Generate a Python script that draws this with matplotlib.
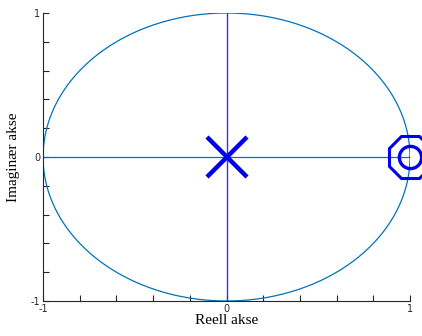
import matplotlib.pyplot as plt
import numpy as np

# poler og nullpunkt
pol_re = [0.0]
pol_im = [0.0]
null_re = [1.0]
null_im = [0.0]

ticks = [-1, -0.8, -0.6, -0.4, -0.2, 0, 0.2, 0.4, 0.6, 0.8, 1]
ticklabels = ['-1', '', '', '', '', '0', '', '', '', '', '1']

fig = plt.figure(figsize=(4.22, 3.36), dpi=100)
ax = fig.add_axes([0.102, 0.1042, 0.8696, 0.8571])

# enhetssirkel
t = np.linspace(0, 2 * np.pi, 400)
ax.plot(np.cos(t), np.sin(t), color='#0072BD', lw=0.9)

# akser
ax.plot([-1, 1], [0, 0], color='#0072BD', lw=0.9)
ax.plot([0, 0], [-1, 1], color='#2f2fff', lw=1.0)

ax.plot(pol_re, pol_im, 'x', color='#0000ee', ms=29, mew=3.2)
ax.plot(null_re, null_im, '8', mfc='none', mec='#0000ee', ms=33, mew=2.2, clip_on=False)
ax.plot(null_re, null_im, 'o', mfc='none', mec='#0000ee', ms=16, mew=2.4, clip_on=False)

ax.set_xlim(-1, 1)
ax.set_ylim(-1, 1)
ax.set_xticks(ticks)
ax.set_xticklabels(ticklabels)
ax.set_yticks(ticks)
ax.set_yticklabels(ticklabels)
ax.tick_params(direction='in', length=4, width=0.8, labelsize=7, colors='#262626', pad=2)
ax.spines['top'].set_visible(False)
ax.spines['right'].set_visible(False)
for s in ['left', 'bottom']:
    ax.spines[s].set_color('#262626')
    ax.spines[s].set_linewidth(0.8)

ax.set_xlabel('Reell akse', family='Liberation Serif', fontsize=11, labelpad=0)
ax.set_ylabel('Imaginær akse', family='Liberation Serif', fontsize=11, labelpad=8)

fig.savefig('out.png', dpi=100)
